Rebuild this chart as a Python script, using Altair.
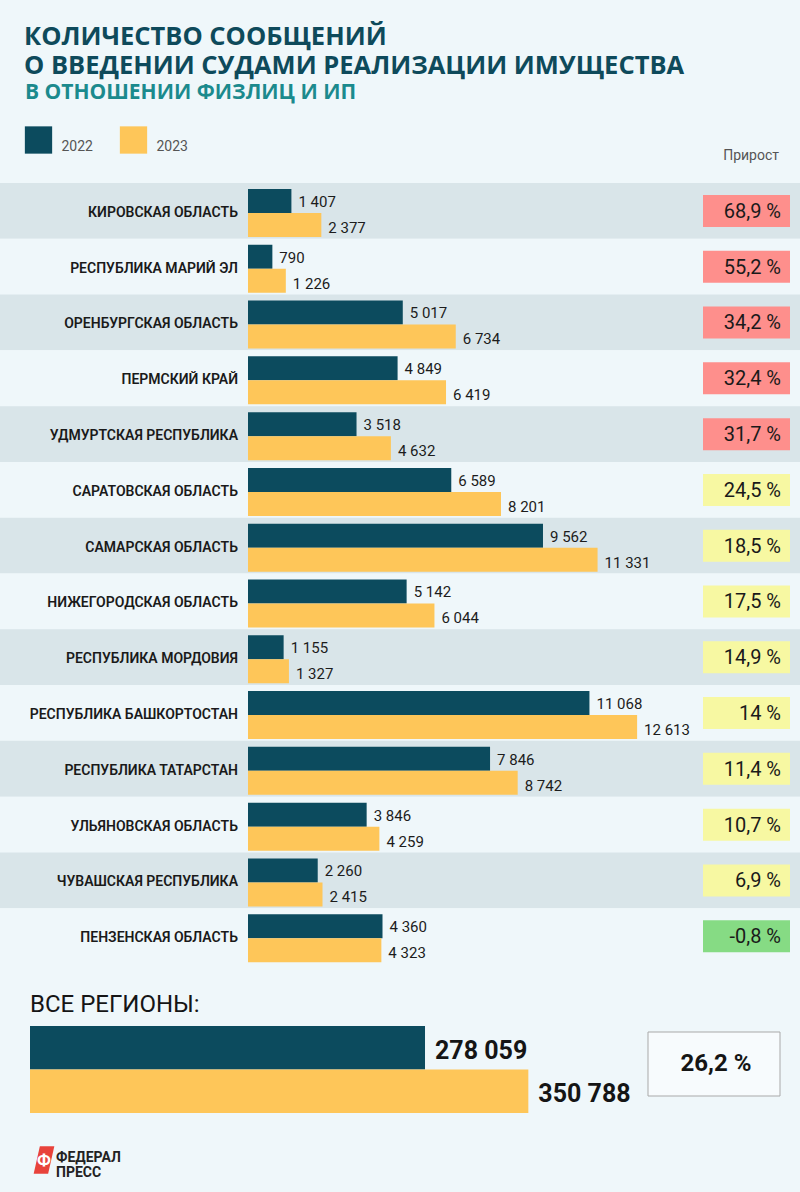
import altair as alt
import pandas as pd

# ---------------- data ----------------
REGIONS = [
    "КИРОВСКАЯ ОБЛАСТЬ", "РЕСПУБЛИКА МАРИЙ ЭЛ", "ОРЕНБУРГСКАЯ ОБЛАСТЬ",
    "ПЕРМСКИЙ КРАЙ", "УДМУРТСКАЯ РЕСПУБЛИКА", "САРАТОВСКАЯ ОБЛАСТЬ",
    "САМАРСКАЯ ОБЛАСТЬ", "НИЖЕГОРОДСКАЯ ОБЛАСТЬ", "РЕСПУБЛИКА МОРДОВИЯ",
    "РЕСПУБЛИКА БАШКОРТОСТАН", "РЕСПУБЛИКА ТАТАРСТАН", "УЛЬЯНОВСКАЯ ОБЛАСТЬ",
    "ЧУВАШСКАЯ РЕСПУБЛИКА", "ПЕНЗЕНСКАЯ ОБЛАСТЬ",
]
V2022 = [1407, 790, 5017, 4849, 3518, 6589, 9562, 5142, 1155, 11068, 7846, 3846, 2260, 4360]
V2023 = [2377, 1226, 6734, 6419, 4632, 8201, 11331, 6044, 1327, 12613, 8742, 4259, 2415, 4323]
GROWTH = [68.9, 55.2, 34.2, 32.4, 31.7, 24.5, 18.5, 17.5, 14.9, 14.0, 11.4, 10.7, 6.9, -0.8]
GROWTH_LABELS = ["68,9 %", "55,2 %", "34,2 %", "32,4 %", "31,7 %", "24,5 %", "18,5 %",
                 "17,5 %", "14,9 %", "14 %", "11,4 %", "10,7 %", "6,9 %", "-0,8 %"]
YEARS = ["2022", "2023"]
TOTALS = [278059, 350788]
TOTAL_GROWTH = "26,2 %"

TITLE_1 = "КОЛИЧЕСТВО СООБЩЕНИЙ"
TITLE_2 = "О ВВЕДЕНИИ СУДАМИ РЕАЛИЗАЦИИ ИМУЩЕСТВА"
TITLE_3 = "В ОТНОШЕНИИ ФИЗЛИЦ И ИП"
GROWTH_HEAD = "Прирост"
ALL_REGIONS = "ВСЕ РЕГИОНЫ:"
LOGO_1 = "ФЕДЕРАЛ"
LOGO_2 = "ПРЕСС"

# ---------------- styling ----------------
DARK = "#0c4b5e"
YELLOW = "#fec659"
BG = "#eff7fa"
BAND = "#d9e5e9"
FONT = "Roboto"
TITLE_FONT = "Open Sans"


def fmt(v):
    return f"{v:,}".replace(",", " ")


rows = pd.DataFrame({
    "region": REGIONS,
    "shade": ["dark" if i % 2 == 0 else "light" for i in range(len(REGIONS))],
    "growth": GROWTH,
    "glabel": GROWTH_LABELS,
    "gcat": ["up" if g >= 30 else ("mid" if g >= 0 else "down") for g in GROWTH],
    "k": ["box"] * len(REGIONS),
})

bars = pd.DataFrame(
    [{"region": r, "year": "2022", "value": v, "label": fmt(v)} for r, v in zip(REGIONS, V2022)]
    + [{"region": r, "year": "2023", "value": v, "label": fmt(v)} for r, v in zip(REGIONS, V2023)]
)

totals = pd.DataFrame({"year": YEARS, "total": TOTALS, "label": [fmt(t) for t in TOTALS]})
legend = pd.DataFrame({"year": YEARS})

Y_ROW = alt.Y("region:N", sort=REGIONS, axis=None,
              scale=alt.Scale(domain=REGIONS, range=[183, 964], paddingInner=0, paddingOuter=0))
X_VAL = alt.X("value:Q", axis=None, scale=alt.Scale(domain=[0, 10000], range=[248, 556.5]))
Y_OFF = alt.YOffset("year:N", scale=alt.Scale(domain=YEARS, range=[6, 54], paddingInner=0, paddingOuter=0))
COLOR_YEAR = alt.Color("year:N", legend=None, scale=alt.Scale(domain=YEARS, range=[DARK, YELLOW]))

band_layer = alt.Chart(rows).mark_rect().encode(
    y=Y_ROW, x=alt.value(0), x2=alt.value(800),
    color=alt.Color("shade:N", legend=None,
                    scale=alt.Scale(domain=["dark", "light"], range=[BAND, BG])),
)

bar_layer = alt.Chart(bars).mark_bar().encode(
    y=Y_ROW, yOffset=Y_OFF, x=X_VAL, color=COLOR_YEAR,
)

val_2022 = alt.Chart(bars).transform_filter(alt.datum.year == "2022").mark_text(
    align="left", baseline="middle", dx=7, dy=-9, fontSize=15, font=FONT, color="#1c1c1c"
).encode(y=Y_ROW, x=X_VAL, text="label:N")
val_2023 = alt.Chart(bars).transform_filter(alt.datum.year == "2023").mark_text(
    align="left", baseline="middle", dx=7, dy=17, fontSize=15, font=FONT, color="#1c1c1c"
).encode(y=Y_ROW, x=X_VAL, text="label:N")

region_layer = alt.Chart(rows).mark_text(
    align="right", baseline="middle", dy=2, fontSize=14, font=FONT, fontWeight=600, color="#1a1a1a"
).encode(y=Y_ROW, x=alt.value(238), text="region:N")

box_layer = alt.Chart(rows).mark_rect().encode(
    y=Y_ROW,
    yOffset=alt.YOffset("k:N", scale=alt.Scale(domain=["box"], range=[12, 44], paddingInner=0, paddingOuter=0)),
    x=alt.value(703), x2=alt.value(790),
    color=alt.Color("gcat:N", legend=None,
                    scale=alt.Scale(domain=["up", "mid", "down"], range=["#fe8f8c", "#f7f8a2", "#86db84"])),
)

growth_layer = alt.Chart(rows).mark_text(
    align="right", baseline="middle", dy=1, fontSize=20, font=FONT, color="#1a1a1a"
).encode(y=Y_ROW, x=alt.value(781), text="glabel:N")


def label(text, x, y, size, color, weight="normal", align="left", font=FONT):
    return alt.Chart(pd.DataFrame({"t": [text]})).mark_text(
        align=align, baseline="alphabetic", fontSize=size, font=font, fontWeight=weight, color=color
    ).encode(x=alt.value(x), y=alt.value(y), text="t:N")


title_layers = [
    label(TITLE_1, 24, 45, 25.5, "#0e4a5b", "bold", font=TITLE_FONT),
    label(TITLE_2, 24, 74, 25.5, "#0e4a5b", "bold", font=TITLE_FONT),
    label(TITLE_3, 25, 99, 21, "#1b8a8d", "bold", font=TITLE_FONT),
    label(GROWTH_HEAD, 779, 160, 14, "#555555", align="right"),
    label(ALL_REGIONS, 30, 1012, 24, "#151515"),
]

X_LEG = alt.X("year:N", axis=None, scale=alt.Scale(type="point", domain=YEARS, range=[38.5, 133.5], padding=0))
leg_sq = alt.Chart(legend).mark_square(size=745, opacity=1).encode(
    x=X_LEG, y=alt.value(140), color=COLOR_YEAR)
leg_tx = alt.Chart(legend).mark_text(
    align="left", baseline="alphabetic", dx=23, fontSize=14, font=FONT, color="#555555"
).encode(x=X_LEG, y=alt.value(151), text="year:N")

Y_TOT = alt.Y("year:N", axis=None,
              scale=alt.Scale(domain=YEARS, range=[1026, 1113], paddingInner=0, paddingOuter=0))
X_TOT = alt.X("total:Q", axis=None, scale=alt.Scale(domain=[0, 100000], range=[30, 172.06]))
tot_bars = alt.Chart(totals).mark_bar().encode(y=Y_TOT, x=X_TOT, color=COLOR_YEAR)
tot_text = alt.Chart(totals).mark_text(
    align="left", baseline="middle", dx=10, dy=3, fontSize=25, font=FONT, fontWeight="bold", color="#151515"
).encode(y=Y_TOT, x=X_TOT, text="label:N")

tot_box = alt.Chart(pd.DataFrame({"t": [TOTAL_GROWTH]})).mark_rect(
    fill="#f7fbfd", stroke="#a9a9a9", strokeWidth=1
).encode(x=alt.value(648), x2=alt.value(780), y=alt.value(1032), y2=alt.value(1096))
tot_box_text = alt.Chart(pd.DataFrame({"t": [TOTAL_GROWTH]})).mark_text(
    align="center", baseline="middle", fontSize=24, font=FONT, fontWeight="bold", color="#151515"
).encode(x=alt.value(716), y=alt.value(1064), text="t:N")

logo_shape = alt.Chart(pd.DataFrame({"t": ["logo"]})).mark_point(
    shape="M -0.3 -1 L 0.75 -1 L 0.3 1 L -0.75 1 Z", filled=True, size=760, opacity=1, color="#e8433b"
).encode(x=alt.value(44), y=alt.value(1160))
logo_f = alt.Chart(pd.DataFrame({"t": ["Ф"]})).mark_text(
    align="center", baseline="middle", fontSize=17, font=FONT, fontWeight="bold", color="#ffffff"
).encode(x=alt.value(44), y=alt.value(1161), text="t:N")
logo_t1 = label(LOGO_1, 56, 1162, 14, "#222222", "bold")
logo_t2 = label(LOGO_2, 56, 1177, 14, "#222222", "bold")

chart = alt.layer(
    band_layer, bar_layer, val_2022, val_2023, region_layer, box_layer, growth_layer,
    *title_layers, leg_sq, leg_tx, tot_bars, tot_text, tot_box, tot_box_text,
    logo_shape, logo_f, logo_t1, logo_t2,
).resolve_scale(
    x="independent", y="independent", color="independent", yOffset="independent"
).properties(
    width=800, height=1192, background=BG, padding=0,
    autosize=alt.AutoSizeParams(type="none"),
).configure_view(stroke=None)

chart.save("out.html", embed_options={"renderer": "svg", "actions": False})
